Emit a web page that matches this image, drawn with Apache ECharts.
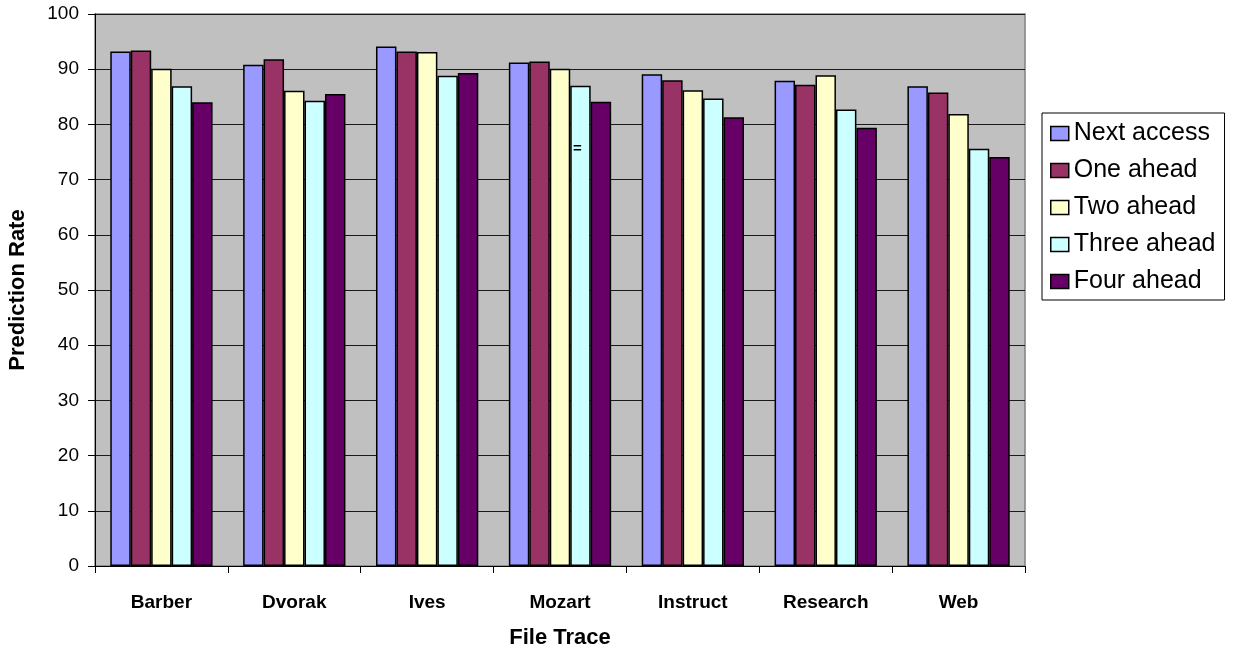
<!DOCTYPE html>
<html><head><meta charset="utf-8">
<script src="https://cdn.jsdelivr.net/npm/echarts@6/dist/echarts.min.js"></script>
<style>html,body{margin:0;padding:0;background:#fff}#c{width:1233px;height:652px}</style>
</head><body><div id="c"></div>
<script>
const categories = ['Barber','Dvorak','Ives','Mozart','Instruct','Research','Web'];
const seriesNames = ['Next access','One ahead','Two ahead','Three ahead','Four ahead'];
const nextAccess = [93.2, 90.8, 94.1, 91.2, 89.1, 87.9, 86.9];
const oneAhead   = [93.4, 91.8, 93.2, 91.4, 88.0, 87.2, 85.8];
const twoAhead   = [90.1, 86.1, 93.1, 90.1, 86.2, 88.9, 81.9];
const threeAhead = [86.9, 84.3, 88.8, 87.0, 84.7, 82.7, 75.6];
const fourAhead  = [84.0, 85.5, 89.3, 84.1, 81.3, 79.4, 74.1];
const yTicks = [0,10,20,30,40,50,60,70,80,90,100];

const values = [nextAccess, oneAhead, twoAhead, threeAhead, fourAhead];
const colors = ['#9999FF','#993366','#FFFFCC','#CCFFFF','#660066'];
const font = '"Liberation Sans", Arial, sans-serif';

const chart = echarts.init(document.getElementById('c'), null, {renderer:'canvas'});
chart.setOption({
  animation:false,
  backgroundColor:'#ffffff',
  grid:{left:95,right:208,top:14,bottom:86,outerBoundsMode:'none',containLabel:false,
    show:true,backgroundColor:'#C0C0C0',borderColor:'#808080',borderWidth:1.5},
  legend:{
    orient:'vertical', left:1042, top:113,
    icon:'rect',
    itemWidth:18, itemHeight:14, itemGap:12,
    padding:[8,9,6,8],
    borderColor:'#000', borderWidth:1, backgroundColor:'#fff',
    itemStyle:{borderColor:'#000',borderWidth:1.5},
    textStyle:{fontFamily:font,fontSize:25,lineHeight:24,color:'#000'},
    data:seriesNames
  },
  xAxis:{
    type:'category', data:categories,
    name:'File Trace', nameLocation:'middle', nameGap:61,
    nameTextStyle:{fontFamily:font,fontSize:22,fontWeight:'bold',color:'#000'},
    axisLine:{lineStyle:{color:'#000',width:1}},
    axisTick:{show:true,alignWithLabel:false,length:7,lineStyle:{color:'#000'}},
    axisLabel:{fontFamily:font,fontSize:19,fontWeight:'bold',color:'#000',margin:27},
    splitLine:{show:false}
  },
  yAxis:{
    type:'value', min:0, max:100, interval:10,
    name:'Prediction Rate', nameLocation:'middle', nameGap:66, nameRotate:90,
    nameTextStyle:{fontFamily:font,fontSize:22,fontWeight:'bold',color:'#000'},
    axisLine:{show:true,lineStyle:{color:'#000',width:1}},
    axisTick:{show:true,length:7,lineStyle:{color:'#000'}},
    axisLabel:{fontFamily:font,fontSize:19,color:'#000',margin:16,
      formatter:v=>yTicks.includes(v)?String(v):''},
    splitLine:{show:true,lineStyle:{color:'#1a1a1a',width:1}}
  },
  series: seriesNames.map((n,i)=>({
    name:n, type:'bar', data:values[i],
    barGap:'0%', barCategoryGap:'23%',
    itemStyle:{color:colors[i],borderColor:'#000',borderWidth:1.5}
  })),
  graphic:[{type:'text',left:573,top:141,z:100,style:{text:'=',font:'bold 15px '+font,fill:'#000'}}]
});
</script></body></html>
